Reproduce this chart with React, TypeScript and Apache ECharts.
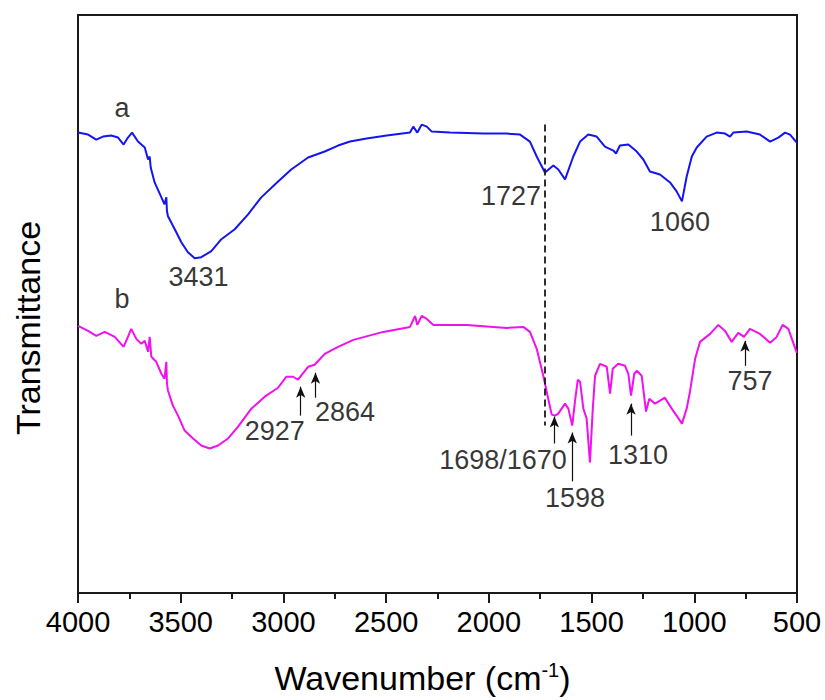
import React, { useEffect, useRef } from "react";
import * as echarts from "echarts";

// Spectrum a (blue): wavenumber (cm-1) and transmittance (arbitrary units)
const wavenumbersA = [4000,3951,3911,3878,3839,3805,3778,3757,3737,3708,3675,3659,3651,3646,3627,3594,3579,3570,3567,3562,3529,3497,3465,3432,3400,3351,3302,3237,3172,3108,3026,2962,2880,2799,2734,2676,2595,2497,2384,2368,2348,2327,2302,2278,2189,2027,1913,1848,1800,1767,1727,1686,1662,1629,1589,1556,1516,1475,1435,1394,1381,1362,1321,1280,1248,1216,1167,1118,1086,1060,1037,1012,988,940,891,850,826,810,745,680,631,591,558,534,501];
const transmittanceA = [462,460,455,458,459,457,450,457,462,453,447,435,438,427,412,397,390,397,383,378,365,352,342,336,337,343,355,365,380,397,413,425,437,443,449,453,456,459,462,468,462,470,468,463,462,461,461,460,453,438,422,429,425,415,438,453,460,458,448,444,441,449,450,443,435,423,420,412,403,393,418,438,447,458,462,461,458,462,463,460,453,457,462,460,452];

// Spectrum b (magenta)
const wavenumbersB = [4000,3951,3911,3870,3821,3778,3757,3741,3716,3692,3675,3659,3651,3643,3619,3594,3579,3570,3567,3562,3538,3513,3481,3440,3400,3359,3318,3270,3221,3156,3091,3026,2986,2953,2929,2880,2848,2799,2734,2660,2514,2384,2359,2348,2327,2302,2270,2108,1913,1832,1800,1767,1735,1711,1694,1678,1662,1629,1613,1594,1581,1567,1556,1540,1524,1508,1494,1483,1459,1426,1410,1397,1370,1337,1321,1308,1292,1280,1256,1235,1219,1191,1143,1110,1086,1060,1037,1021,996,972,923,883,850,818,786,758,729,680,631,599,570,542,501];
const transmittanceB = [268,263,258,262,257,247,257,265,255,250,253,242,257,237,232,220,215,232,210,203,188,178,163,155,148,145,148,155,167,185,197,206,217,217,214,227,229,240,247,254,262,267,278,269,278,275,269,269,266,267,262,245,218,195,179,178,180,190,185,168,192,214,212,185,175,131,185,218,230,227,200,225,230,228,220,198,220,223,218,182,195,190,196,185,178,170,185,202,235,252,260,269,263,252,261,257,265,260,251,257,269,265,241];

// Text annotations (label, wavenumber, transmittance)
const annotationTexts = ["a", "b", "3431", "1727", "1060", "2927", "2864", "1698/1670", "1598", "1310", "757"];
const annotationWn = [3786, 3786, 3413, 1892, 1070, 3042, 2700, 1931, 1581, 1274, 729];
const annotationT = [487, 295, 317, 398, 372, 163, 182, 133, 95, 138, 213];

// Arrows (wavenumber, from transmittance, to transmittance)
const arrowWn = [2916, 2844, 1681, 1594, 1308, 753];
const arrowFrom = [178, 196, 150, 112, 158, 228];
const arrowTo = [207, 221, 177, 161, 190, 253];

// Dashed reference line
const dashedWn = 1727;
const dashedFrom = 470;
const dashedTo = 168;

const xTicks = [500, 1000, 1500, 2000, 2500, 3000, 3500, 4000];

const FONT = "'Liberation Sans', Arial, sans-serif";

export default function App() {
  const ref = useRef<HTMLDivElement>(null);
  useEffect(() => {
    if (!ref.current) return;
    const chart = echarts.init(ref.current, undefined, { renderer: "svg" });
    const seriesA = wavenumbersA.map((w, i) => [w, transmittanceA[i]]);
    const seriesB = wavenumbersB.map((w, i) => [w, transmittanceB[i]]);
    const annotations = annotationTexts.map((t, i) => ({
      name: t,
      value: [annotationWn[i], annotationT[i]],
    }));
    const arrows = arrowWn.map((w, i) => [
      { coord: [w, arrowFrom[i]], symbol: "none" },
      { coord: [w, arrowTo[i]], symbol: "arrow", symbolSize: [7, 11] },
    ]);
    chart.setOption({
      animation: false,
      backgroundColor: "#ffffff",
      textStyle: { fontFamily: FONT },
      grid: {
        left: 78,
        right: 28,
        top: 15,
        bottom: 105,
        show: true,
        borderColor: "#1a1a1a",
        borderWidth: 2,
        backgroundColor: "transparent",
      },
      graphic: [
        {
          type: "text",
          x: 28,
          y: 328,
          rotation: Math.PI / 2,
          silent: true,
          style: {
            text: "Transmittance",
            fontSize: 34,
            fontFamily: FONT,
            fill: "#000",
            textAlign: "center",
            textVerticalAlign: "middle",
          },
        },
      ],
      xAxis: {
        type: "value",
        inverse: true,
        min: xTicks[0],
        max: xTicks[xTicks.length - 1],
        interval: 500,
        axisLine: { show: true, onZero: false, lineStyle: { color: "#1a1a1a", width: 2 } },
        axisTick: { show: true, inside: false, length: 10, lineStyle: { color: "#1a1a1a", width: 2 } },
        minorTick: { show: true, splitNumber: 2, length: 6, lineStyle: { color: "#1a1a1a", width: 2 } },
        splitLine: { show: false },
        axisLabel: {
          fontSize: 29,
          color: "#000",
          margin: 14,
          fontFamily: FONT,
          formatter: (v: number) => String(v),
        },
        name: "Wavenumber (cm{sup|-1})",
        nameLocation: "middle",
        nameGap: 67,
        nameTextStyle: {
          fontSize: 34,
          color: "#000",
          fontFamily: FONT,
          padding: [0, 30, 0, 0],
          rich: {
            sup: { fontSize: 20, color: "#000", fontFamily: FONT, verticalAlign: "top", padding: [0, 0, 16, 0] },
          },
        },
      },
      yAxis: {
        type: "value",
        min: 0,
        max: 580,
        axisLine: { show: false },
        axisTick: { show: false },
        axisLabel: { show: false },
        splitLine: { show: false },
      },
      series: [
        {
          name: "a",
          type: "line",
          data: seriesA,
          showSymbol: false,
          symbol: "none",
          lineStyle: { color: "#1515f0", width: 2 },
          silent: true,
          z: 3,
          markLine: {
            silent: true,
            symbol: ["none", "none"],
            label: { show: false },
            lineStyle: { color: "#1a1a1a", width: 1.8, type: [7, 4] },
            data: [[{ coord: [dashedWn, dashedFrom] }, { coord: [dashedWn, dashedTo] }]],
          },
        },
        {
          name: "b",
          type: "line",
          data: seriesB,
          showSymbol: false,
          symbol: "none",
          lineStyle: { color: "#f010f0", width: 2 },
          silent: true,
          z: 3,
          markLine: {
            silent: true,
            symbol: ["none", "arrow"],
            symbolSize: [7, 11],
            label: { show: false },
            lineStyle: { color: "#111", width: 1.2, type: "solid" },
            data: arrows,
          },
        },
        {
          name: "labels",
          type: "scatter",
          data: annotations,
          symbolSize: 0,
          silent: true,
          itemStyle: { color: "#000" },
          label: {
            show: true,
            position: [0, 0],
            align: "center",
            verticalAlign: "middle",
            formatter: "{b}",
            color: "#000",
            fontFamily: FONT,
            fontSize: 27,
          },
          z: 5,
        },
      ],
    });
    return () => chart.dispose();
  }, []);
  return (
    <div
      ref={ref}
      style={{ position: "fixed", left: 0, top: 0, width: 825, height: 700, background: "#fff" }}
    />
  );
}
